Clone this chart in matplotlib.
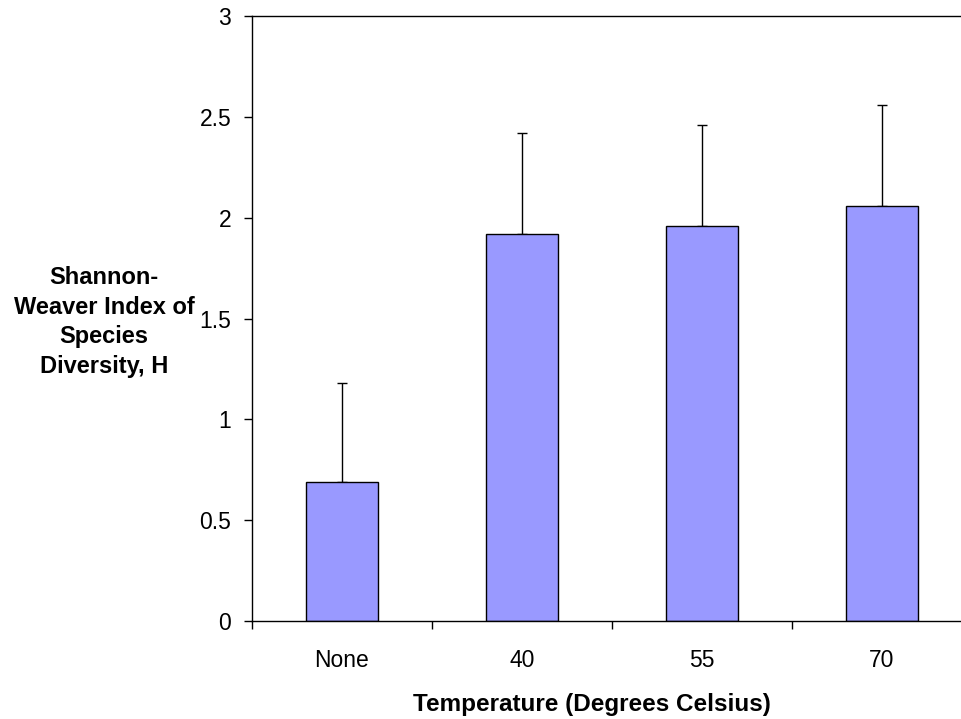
import matplotlib
matplotlib.use('Agg')
import matplotlib.pyplot as plt
import numpy as np

plt.rcParams['font.family'] = ['Liberation Sans', 'DejaVu Sans']

# Данные
categories = ['None', '40', '55', '70']
diversity = [0.69, 1.92, 1.96, 2.06]
errors = [0.49, 0.50, 0.50, 0.50]

fig = plt.figure(figsize=(9.61, 7.19), dpi=100)
ax = fig.add_axes([252 / 961, 98 / 719, 720 / 961, 605 / 719])

x = np.arange(len(categories))
ax.bar(x, diversity, width=0.4, color='#9999FF', edgecolor='black', linewidth=1, zorder=2)
ax.errorbar(x, diversity, yerr=[np.zeros(len(errors)), errors], fmt='none',
            ecolor='black', elinewidth=1, capsize=3.5, capthick=1, zorder=1)

ax.set_xlim(-0.5, len(categories) - 0.5)
ax.set_ylim(0, 3)
ax.set_yticks([0, 0.5, 1, 1.5, 2, 2.5, 3])
ax.set_yticklabels(['0', '0.5', '1', '1.5', '2', '2.5', '3'])
ax.tick_params(axis='y', length=6, width=1, pad=9, labelsize=16.5)

# Деления между категориями, подписи по центрам
ax.set_xticks(np.arange(len(categories) + 1) - 0.5)
ax.set_xticklabels([])
ax.tick_params(axis='x', which='major', length=6, width=1)
ax.set_xticks(x, minor=True)
ax.set_xticklabels(categories, minor=True)
ax.tick_params(axis='x', which='minor', length=0, pad=20, labelsize=16.5)

for side in ['left', 'bottom', 'top']:
    ax.spines[side].set_linewidth(1)
ax.spines['right'].set_visible(False)

fig.text(104 / 961, 1 - 322 / 719, 'Shannon-\nWeaver Index of\nSpecies\nDiversity, H',
         ha='center', va='center', multialignment='center', fontsize=17,
         fontweight='bold', linespacing=1.38)
fig.text(592 / 961, 1 - 705 / 719, 'Temperature (Degrees Celsius)',
         ha='center', va='center', fontsize=17.5, fontweight='bold')

plt.savefig('out.png', dpi=100)
